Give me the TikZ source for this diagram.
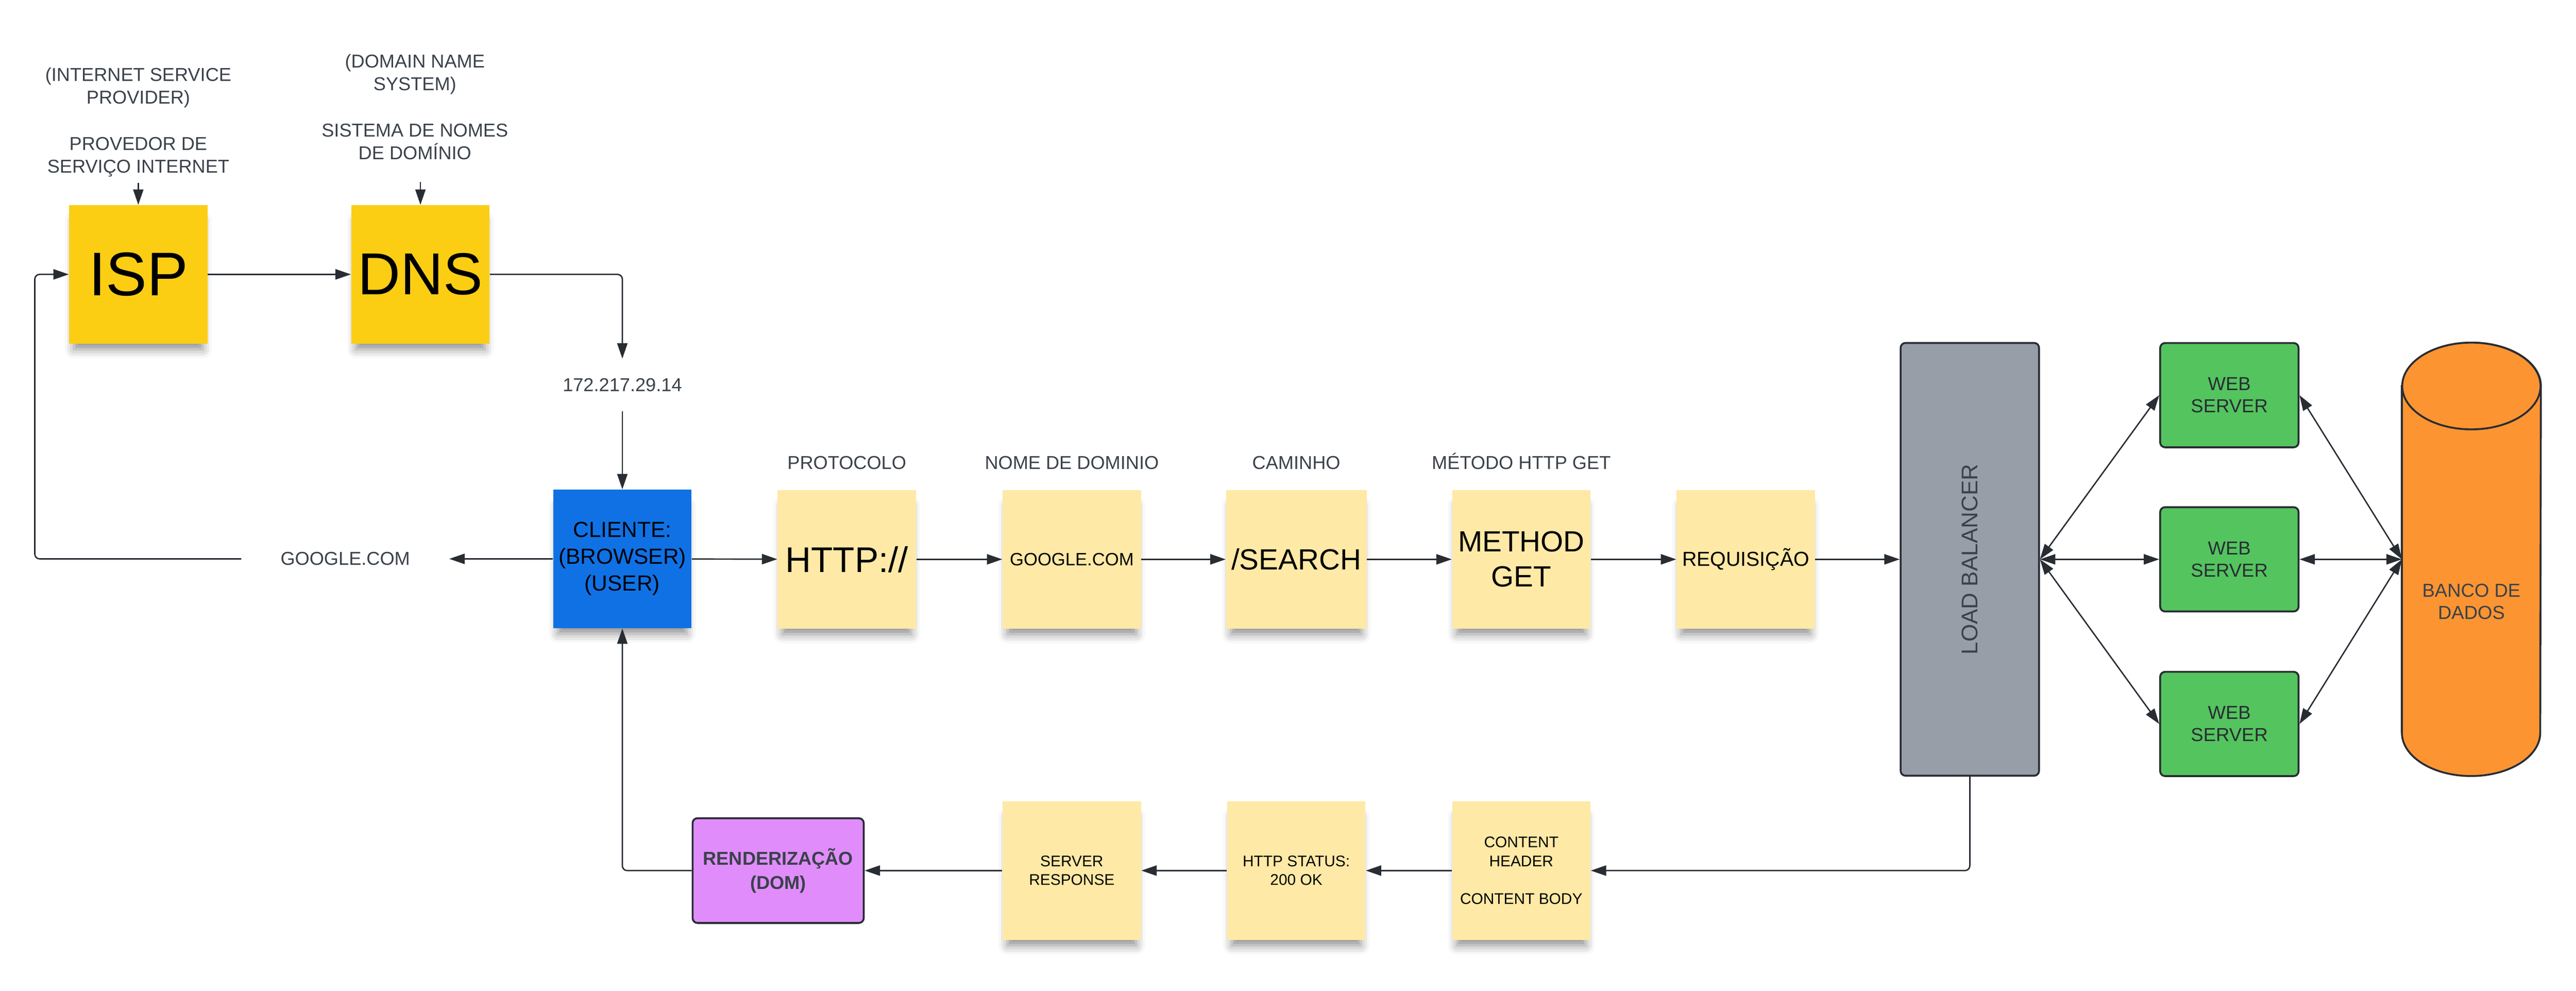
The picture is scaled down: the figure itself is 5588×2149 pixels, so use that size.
\documentclass[tikz,border=0pt]{standalone}
\usepackage{fontspec}
\setmainfont{Liberation Sans}
\usetikzlibrary{arrows.meta, positioning, shadows.blur}

\definecolor{notedark}{HTML}{FBCE14}
\definecolor{notelight}{HTML}{FEE9A6}
\definecolor{clientblue}{HTML}{1071E5}
\definecolor{wsgreen}{HTML}{54C45E}
\definecolor{lbgray}{HTML}{979EA8}
\definecolor{dborange}{HTML}{FC9432}
\definecolor{rendpurple}{HTML}{E08DFB}
\definecolor{linec}{HTML}{282C33}
\definecolor{labelc}{HTML}{3A414A}

\begin{document}
\begin{tikzpicture}[x = 0.01cm, y = -0.01cm,
	line/.style = {draw = linec, line width = 0.85pt},
	arr/.style = {line, -{Triangle[length = 9.5pt, width = 6.3pt]}},
	darr/.style = {line, {Triangle[length = 9.5pt, width = 6.3pt]}-{Triangle[length = 9.5pt, width = 6.3pt]}},
	lbl/.style = {text = labelc, align = center, font = \fontsize{11.5}{14.2}\selectfont},
	sticky/.style = {fill = #1, minimum width = 3cm, minimum height = 3cm, align = center, text = black,
		blur shadow = {shadow xshift = 0pt, shadow yshift = -7pt, shadow scale = 0.93, shadow blur radius = 6pt, shadow opacity = 45}},
	sticky/.default = notelight,
	box/.style = {draw = linec, line width = 1.15pt, rounded corners = 3pt, fill = #1, align = center, text = labelc},
	]
	\useasboundingbox (0,0) rectangle (5588,2149);

	% ISP / DNS
	\node[sticky = notedark, font = \fontsize{38}{42}\selectfont] (isp) at (300,595) {ISP};
	\node[sticky = notedark, font = \fontsize{36.5}{40}\selectfont] (dns) at (912,595) {DNS};
	\node[lbl] (isplbl) at (300,265) {(INTERNET SERVICE\\PROVIDER)\\[14.2pt]PROVEDOR DE\\SERVIÇO INTERNET};
	\node[lbl] (dnslbl) at (900,232) {(DOMAIN NAME\\SYSTEM)\\[14.2pt]SISTEMA DE NOMES\\DE DOMÍNIO};
	\node[lbl, inner ysep = 12pt] (ip) at (1350,835) {172.217.29.14};

	% request row
	\node[sticky = clientblue, font = \fontsize{13.5}{16.5}\selectfont] (client) at (1350,1212) {CLIENTE:\\(BROWSER)\\(USER)};
	\node[lbl, inner xsep = 24pt] (gl) at (749,1212) {GOOGLE.COM};
	\node[sticky, font = \fontsize{22}{26}\selectfont] (http) at (1837,1213) {HTTP://};
	\node[sticky, font = \fontsize{11}{13}\selectfont] (dominio) at (2325,1213) {GOOGLE.COM};
	\node[sticky, font = \fontsize{18}{21}\selectfont] (caminho) at (2812,1213) {/SEARCH};
	\node[sticky, font = \fontsize{18}{21.6}\selectfont] (metodo) at (3300,1213) {METHOD\\GET};
	\node[sticky, font = \fontsize{12.5}{15}\selectfont] (req) at (3787,1213) {REQUISIÇÃO};
	\node[lbl, above = 0.32cm of http] (protolbl) {PROTOCOLO};
	\node[lbl, above = 0.32cm of dominio] (dominiolbl) {NOME DE DOMINIO};
	\node[lbl, above = 0.32cm of caminho] (caminholbl) {CAMINHO};
	\node[lbl, above = 0.32cm of metodo] (metodolbl) {MÉTODO HTTP GET};

	% servers
	\node[box = lbgray, minimum width = 3cm, minimum height = 9.38cm] (lb) at (4273,1213) {};
	\node[rotate = 90, text = labelc, font = \fontsize{14}{16}\selectfont] (lbtxt) at (lb) {LOAD BALANCER};
	\foreach \n/\y in {1/857, 2/1213, 3/1570}
		\node[box = wsgreen, minimum width = 3cm, minimum height = 2.26cm, text = linec, font = \fontsize{11.6}{13.7}\selectfont] (ws\n) at (4836,\y) {WEB\\SERVER};
	\node[minimum width = 3cm, minimum height = 9.38cm] (db) at (5361,1213) {};
	\draw[line, line width = 1.15pt, fill = dborange] ([yshift = -0.94cm]db.north west) -- ([yshift = 0.94cm]db.south west)
		arc[start angle = 180, end angle = 360, x radius = 1.5cm, y radius = 0.94cm] -- ([yshift = -0.94cm]db.north east)
		arc[start angle = 0, end angle = 180, x radius = 1.5cm, y radius = 0.94cm] -- cycle;
	\draw[line, line width = 1.15pt, fill = dborange] ([yshift = -0.94cm]db.north) ellipse[x radius = 1.5cm, y radius = 0.94cm];
	\node[text = labelc, align = center, font = \fontsize{11.6}{13.7}\selectfont] (dbtxt) at ([yshift = -0.92cm]db.center) {BANCO DE\\DADOS};

	% response row
	\node[sticky, font = \fontsize{9.5}{11.6}\selectfont] (cont) at (3300,1888) {CONTENT\\HEADER\\[11.6pt]CONTENT BODY};
	\node[sticky, font = \fontsize{9.5}{11.6}\selectfont] (stat) at (2812,1888) {HTTP STATUS:\\200 OK};
	\node[sticky, font = \fontsize{9.5}{11.6}\selectfont] (resp) at (2325,1888) {SERVER\\RESPONSE};
	\node[box = rendpurple, minimum width = 3.71cm, minimum height = 2.27cm, font = \bfseries\fontsize{11.5}{15}\selectfont] (rend) at (1688,1888) {RENDERIZAÇÃO\\(DOM)};

	% connectors
	\draw[arr] (isplbl) -- (isp);
	\draw[arr] (dnslbl.south -| dns.north) ++(0,35) -- (dns.north);
	\draw[arr] (isp) -- (dns);
	\draw[arr, rounded corners = 3pt] (dns) -| (ip);
	\draw[arr] (ip) -- (client);
	\draw[arr] (client) -- (gl);
	\draw[arr, rounded corners = 3pt] (gl.west) -- ++(-448,0) |- (isp);
	\foreach \a/\b in {client/http, http/dominio, dominio/caminho, caminho/metodo, metodo/req, req/lb}
		\draw[arr] (\a) -- (\b);
	\foreach \n in {1,2,3} {
		\draw[darr] (lb.east) -- (ws\n.west);
		\draw[darr] (ws\n.east) -- (db.west);
	}
	\draw[arr, rounded corners = 3pt] (lb) |- (cont);
	\foreach \a/\b in {cont/stat, stat/resp, resp/rend}
		\draw[arr] (\a) -- (\b);
	\draw[arr, rounded corners = 3pt] (rend) -| (client);
\end{tikzpicture}
\end{document}
